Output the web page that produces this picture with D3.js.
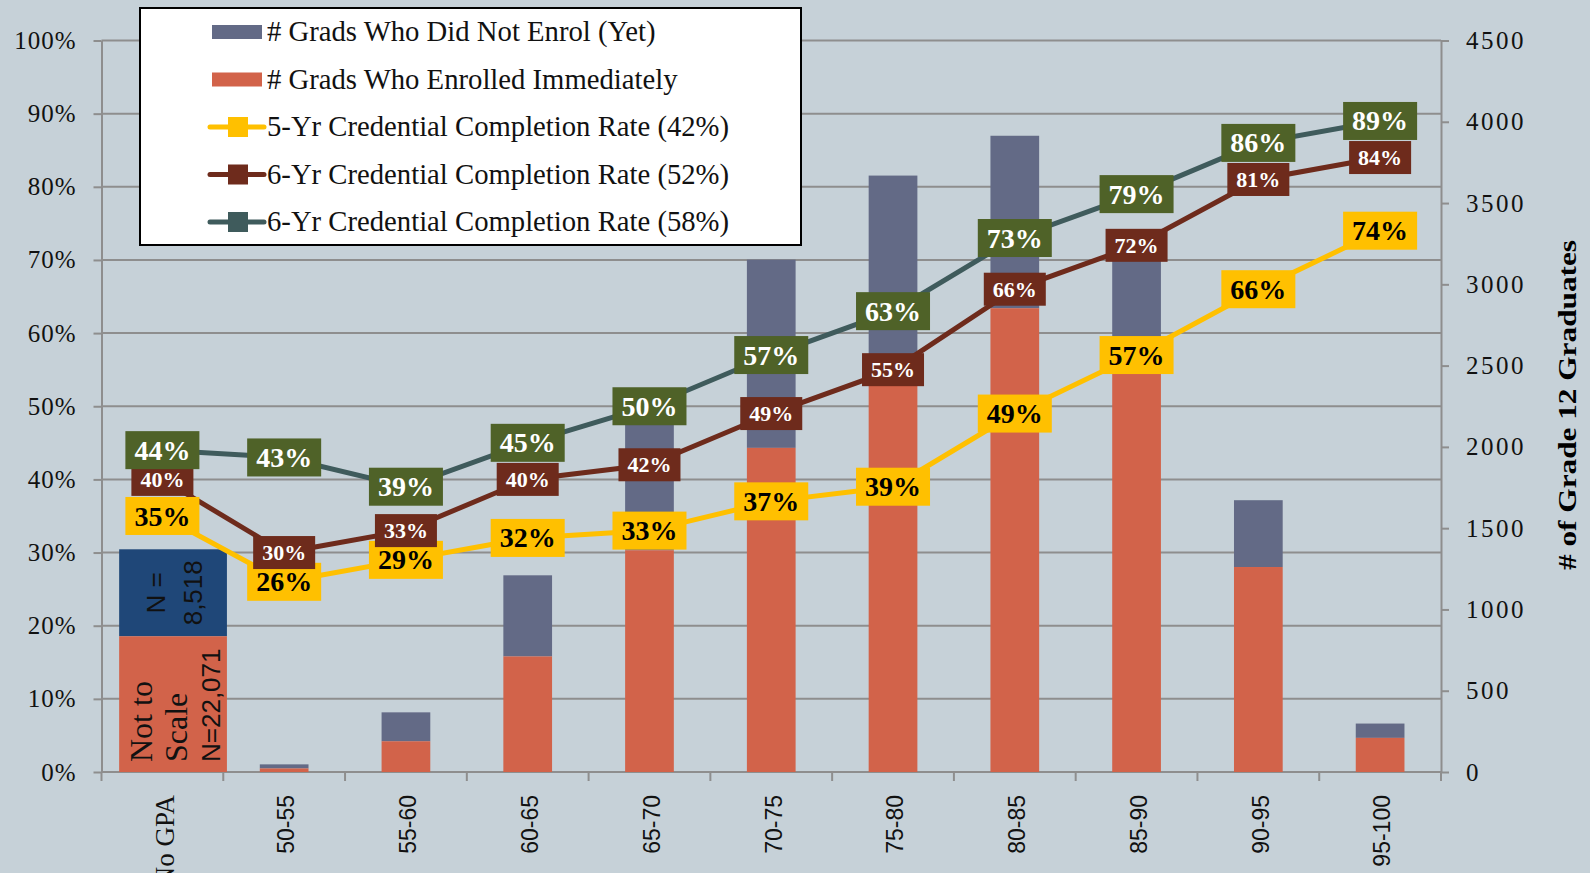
<!DOCTYPE html>
<html>
<head>
<meta charset="utf-8">
<script src="https://cdn.jsdelivr.net/npm/d3@7"></script>
<style>
  html, body { margin: 0; padding: 0; background: #c6d1d8; }
  svg { display: block; }
</style>
</head>
<body>
<svg id="chart" width="1590" height="873"></svg>
<script>
// categories (grade 12 average ranges)
const categories = ["No GPA", "50-55", "55-60", "60-65", "65-70", "70-75", "75-80", "80-85", "85-90", "90-95", "95-100"];

// grad counts (right axis). No GPA bar is drawn "not to scale"
const enrolled    = [835, 22, 189, 711, 1364, 1994, 2450, 2853, 2668, 1261, 210];
const notEnrolled = [535, 25, 178, 499, 886, 1158, 1219, 1061, 582, 411, 88];

// completion rates (left axis)
const rate5yr  = [0.35, 0.26, 0.29, 0.32, 0.33, 0.37, 0.39, 0.49, 0.57, 0.66, 0.74];
const rate6yrA = [0.40, 0.30, 0.33, 0.40, 0.42, 0.49, 0.55, 0.66, 0.72, 0.81, 0.84];
const rate6yrB = [0.44, 0.43, 0.39, 0.45, 0.50, 0.57, 0.63, 0.73, 0.79, 0.86, 0.89];

const pctTicks = [0, 0.1, 0.2, 0.3, 0.4, 0.5, 0.6, 0.7, 0.8, 0.9, 1];
const countTicks = [0, 500, 1000, 1500, 2000, 2500, 3000, 3500, 4000, 4500];

const legendItems = [
  {label: "# Grads Who Did Not Enrol (Yet)", type: "bar", color: "#636a86"},
  {label: "# Grads Who Enrolled Immediately", type: "bar", color: "#d2634a"},
  {label: "5-Yr Credential Completion Rate (42%)", type: "line", color: "#ffc000"},
  {label: "6-Yr Credential Completion Rate (52%)", type: "line", color: "#6e2b1c"},
  {label: "6-Yr Credential Completion Rate (58%)", type: "line", color: "#3f5b5c"}
];

const svg = d3.select("#chart");
const plotLeft = 101.5, plotRight = 1441, plotTop = 40.5, plotBottom = 772;
const gridColor = "#8e8e8e";
const serif = "'Liberation Serif', 'Times New Roman', serif";
const sans = "'Liberation Sans', Arial, sans-serif";

const x = d3.scaleBand().domain(categories).range([plotLeft, plotRight]).padding(0);
const yPct = d3.scaleLinear().domain([0, 1]).range([plotBottom, plotTop]);
const yCount = d3.scaleLinear().domain([0, 4500]).range([plotBottom, plotTop]);
const bw = x.bandwidth();

// gridlines
svg.append("g").selectAll("line").data(pctTicks.slice(1)).join("line")
  .attr("x1", plotLeft).attr("x2", plotRight)
  .attr("y1", d => yPct(d)).attr("y2", d => yPct(d))
  .attr("stroke", gridColor).attr("stroke-width", 2);

// left axis
const axL = svg.append("g").attr("transform", `translate(${plotLeft},0)`)
  .call(d3.axisLeft(yPct).tickValues(pctTicks).tickFormat(d3.format(".0%")).tickSize(8).tickSizeOuter(0));
axL.select(".domain").attr("stroke", gridColor).attr("stroke-width", 2);
axL.selectAll(".tick line").attr("stroke", gridColor).attr("stroke-width", 2);
axL.selectAll(".tick text").attr("x", -25).attr("dy", "0.32em")
  .style("font-family", serif).style("font-size", "25px").style("letter-spacing", "1px").attr("fill", "#111");

// right axis
const axR = svg.append("g").attr("transform", `translate(${plotRight},0)`)
  .call(d3.axisRight(yCount).tickValues(countTicks).tickFormat(d3.format("d")).tickSize(8).tickSizeOuter(0));
axR.select(".domain").attr("stroke", gridColor).attr("stroke-width", 2);
axR.selectAll(".tick line").attr("stroke", gridColor).attr("stroke-width", 2);
axR.selectAll(".tick text").attr("x", 25).attr("dy", "0.32em")
  .style("font-family", serif).style("font-size", "25px").style("letter-spacing", "2.5px").attr("fill", "#111");

svg.append("text")
  .attr("transform", `translate(1576,405) rotate(-90)`)
  .attr("text-anchor", "middle")
  .attr("textLength", 330).attr("lengthAdjust", "spacingAndGlyphs")
  .style("font-family", serif).style("font-size", "26px").style("font-weight", "bold")
  .text("# of Grade 12 Graduates");

// bottom axis line + ticks at band edges
svg.append("line").attr("x1", plotLeft).attr("x2", plotRight).attr("y1", plotBottom).attr("y2", plotBottom)
  .attr("stroke", gridColor).attr("stroke-width", 2);
svg.append("g").selectAll("line").data(categories.map(c => x(c)).concat([plotRight])).join("line")
  .attr("x1", d => d).attr("x2", d => d).attr("y1", plotBottom).attr("y2", plotBottom + 9)
  .attr("stroke", gridColor).attr("stroke-width", 2);

svg.append("g").selectAll("text").data(categories).join("text")
  .attr("transform", d => `translate(${x(d) + bw / 2 + 2},795) rotate(-90)`)
  .attr("text-anchor", "end").attr("dy", "0.36em")
  .style("font-family", (d, i) => i === 0 ? serif : sans)
  .style("font-size", (d, i) => i === 0 ? "27px" : "23px")
  .attr("fill", "#111")
  .text(d => d);

// bars
const barW = bw * 0.4;
const bars = svg.append("g");
categories.forEach((c, i) => {
  const isNoGpa = i === 0;
  const bx = isNoGpa ? x(c) + bw * 0.145 : x(c) + (bw - barW) / 2;
  const w = isNoGpa ? bw * 0.885 : barW;
  const tot = enrolled[i] + notEnrolled[i];
  bars.append("rect").attr("x", bx).attr("width", w)
    .attr("y", yCount(tot)).attr("height", yCount(enrolled[i]) - yCount(tot))
    .attr("fill", isNoGpa ? "#1f4778" : "#636a86");
  bars.append("rect").attr("x", bx).attr("width", w)
    .attr("y", yCount(enrolled[i])).attr("height", plotBottom - yCount(enrolled[i]))
    .attr("fill", "#d2634a");
});

// not to scale annotation on the No GPA bar
const blueMid = (yCount(enrolled[0] + notEnrolled[0]) + yCount(enrolled[0])) / 2;
[["N =", 165], ["8,518", 202]].forEach(([t, bx]) => {
  svg.append("text").attr("transform", `translate(${bx},${blueMid}) rotate(-90)`)
    .attr("text-anchor", "middle").style("font-family", sans).style("font-size", "26px")
    .attr("fill", "#111").text(t);
});
[["Not to", 152, serif, 32], ["Scale", 187, serif, 32], ["N=22,071", 220, sans, 26]].forEach(([t, bx, f, s]) => {
  svg.append("text").attr("transform", `translate(${bx},${plotBottom - 10}) rotate(-90)`)
    .attr("text-anchor", "start").style("font-family", f).style("font-size", s + "px")
    .attr("fill", "#111").text(t);
});

// lines
const cx = c => x(c) + bw / 2;
const lineGen = d3.line().x((d, i) => cx(categories[i])).y(d => yPct(d));
const series = [
  {values: rate5yr, line: "#ffc000", box: "#ffc000", text: "#000", w: 74, h: 38, fs: 28},
  {values: rate6yrA, line: "#6e2b1c", box: "#6e2b1c", text: "#fff", w: 62, h: 33, fs: 22},
  {values: rate6yrB, line: "#3f5b5c", box: "#4f6228", text: "#fff", w: 74, h: 38, fs: 28}
];
series.forEach(s => {
  svg.append("path").datum(s.values).attr("d", lineGen)
    .attr("fill", "none").attr("stroke", s.line).attr("stroke-width", 5);
});
series.forEach(s => {
  const g = svg.append("g").selectAll("g").data(s.values).join("g")
    .attr("transform", (d, i) => `translate(${cx(categories[i])},${yPct(d)})`);
  g.append("rect").attr("x", -s.w / 2).attr("y", -s.h / 2).attr("width", s.w).attr("height", s.h)
    .attr("fill", s.box);
  g.append("text").attr("text-anchor", "middle").attr("dy", "0.34em")
    .style("font-family", serif).style("font-weight", "bold").style("font-size", s.fs + "px")
    .attr("fill", s.text).text(d => d3.format(".0%")(d));
});

// legend
const lg = svg.append("g");
lg.append("rect").attr("x", 140).attr("y", 8).attr("width", 661).attr("height", 237)
  .attr("fill", "#fff").attr("stroke", "#000").attr("stroke-width", 2);
legendItems.forEach((item, i) => {
  const cy = 32 + i * 47.5;
  if (item.type === "bar") {
    lg.append("rect").attr("x", 212).attr("y", cy - 7).attr("width", 50).attr("height", 14).attr("fill", item.color);
  } else {
    lg.append("line").attr("x1", 210).attr("x2", 264).attr("y1", cy).attr("y2", cy)
      .attr("stroke", item.color).attr("stroke-width", 5).attr("stroke-linecap", "round");
    lg.append("rect").attr("x", 228).attr("y", cy - 10).attr("width", 20).attr("height", 20).attr("fill", item.color);
  }
  lg.append("text").attr("x", 267).attr("y", cy).attr("dy", "0.33em")
    .style("font-family", serif).style("font-size", "28.7px").attr("fill", "#111")
    .text(item.label);
});
</script>
</body>
</html>
